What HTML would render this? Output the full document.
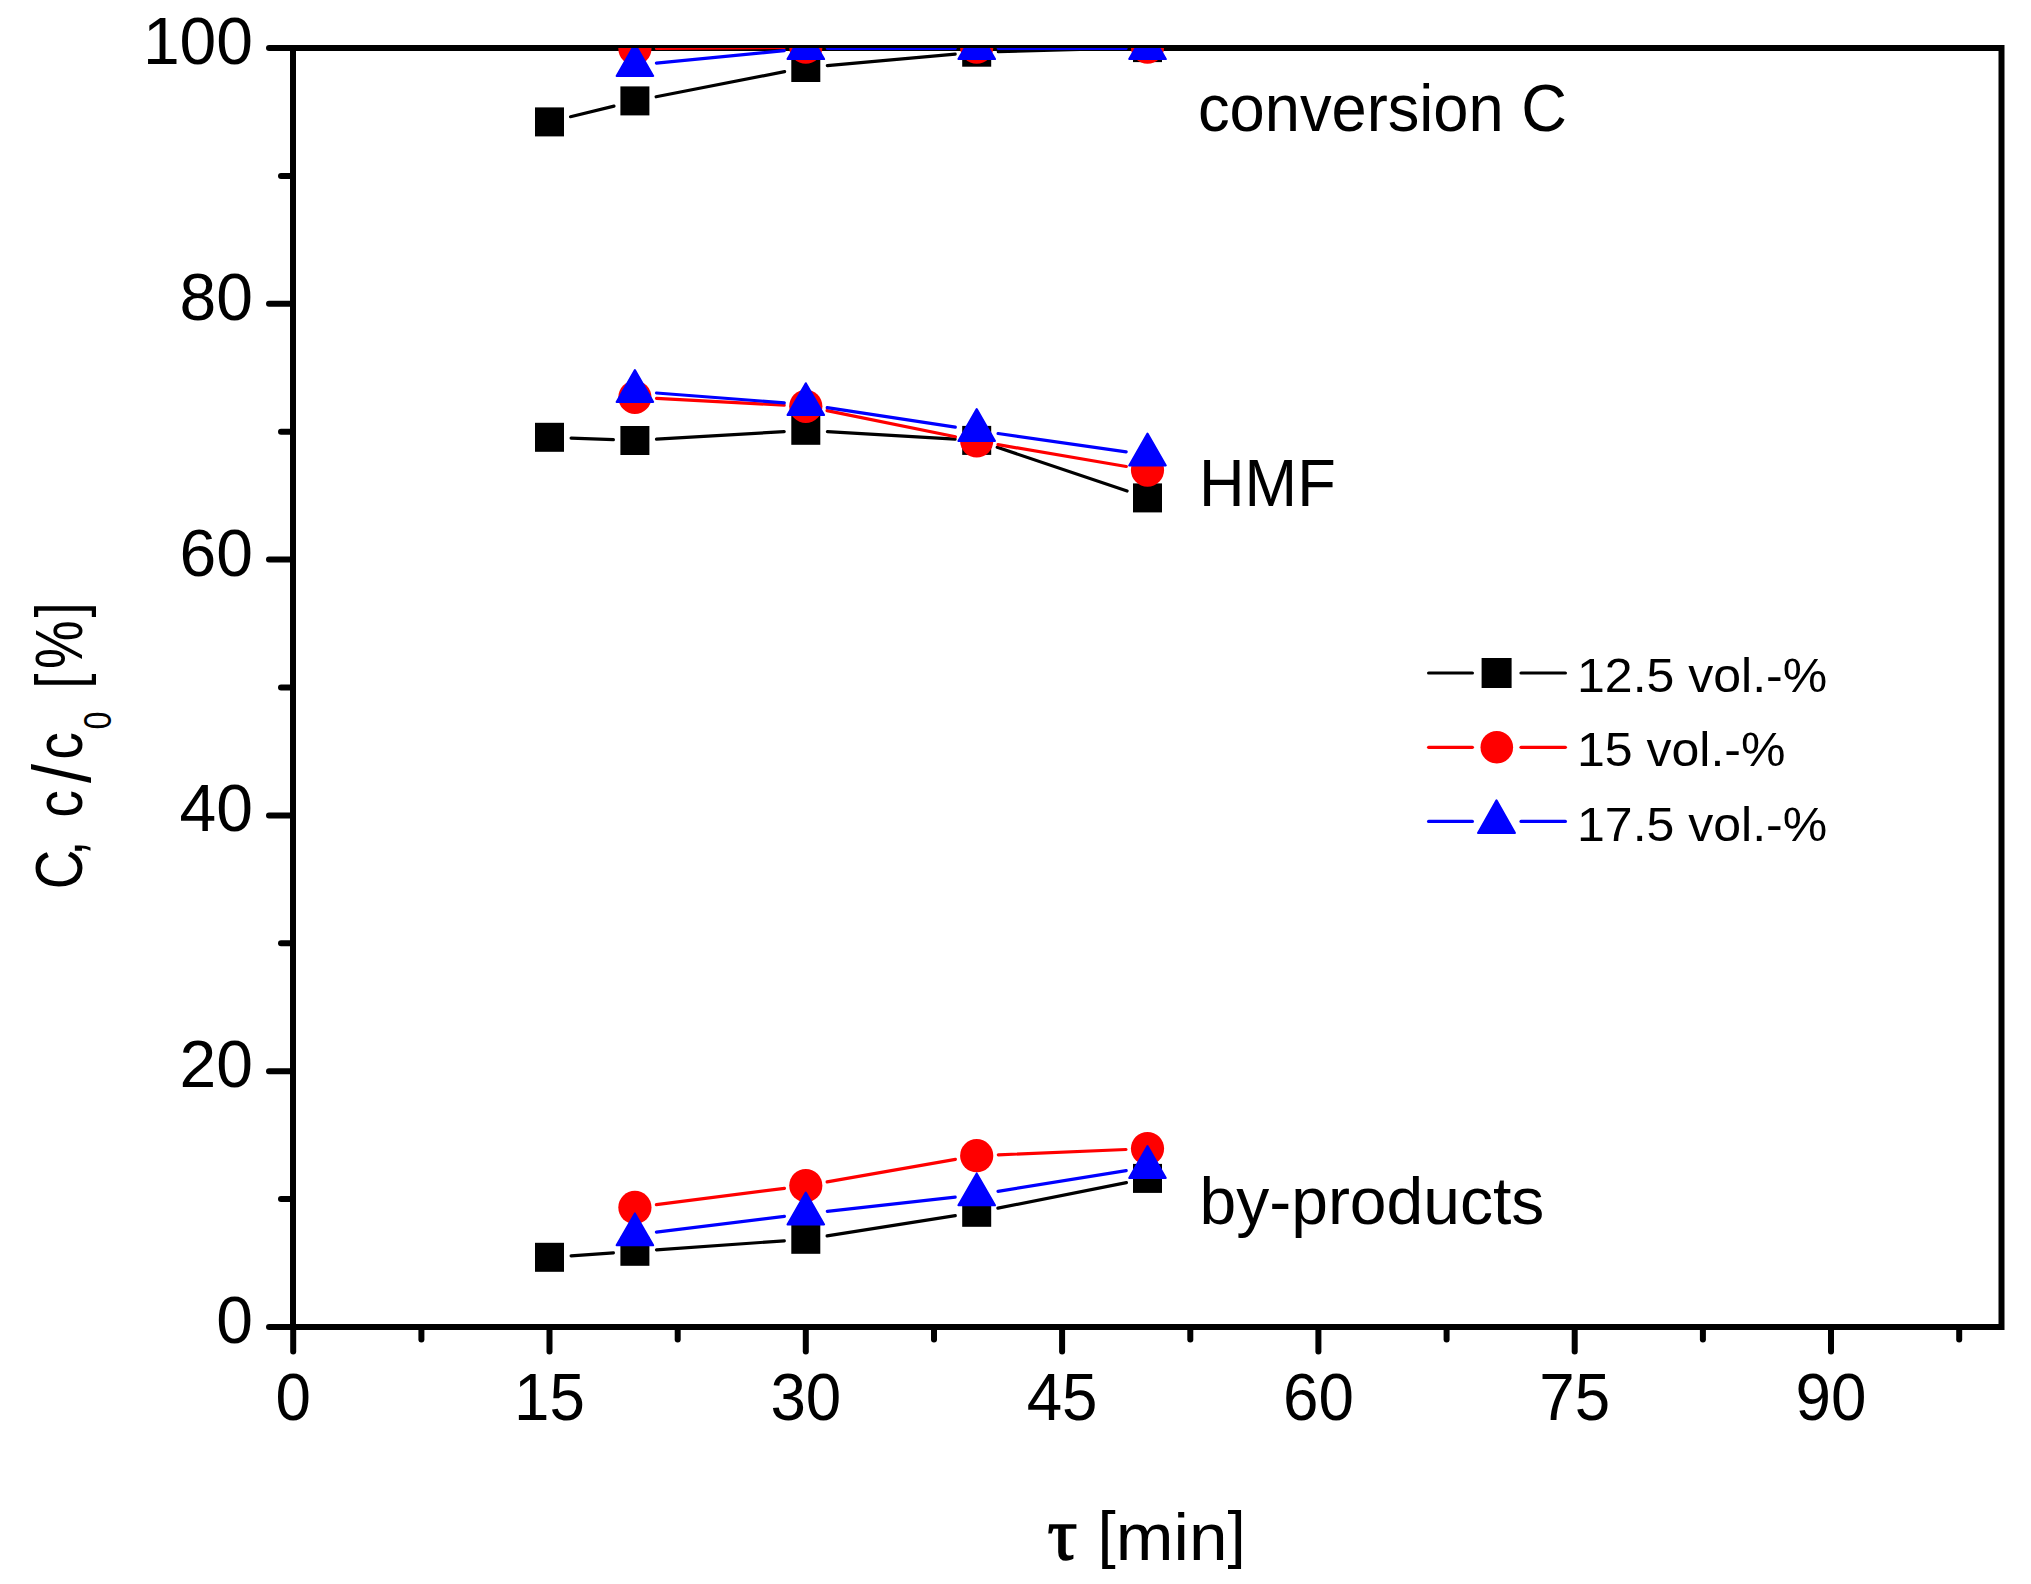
<!DOCTYPE html>
<html lang="en"><head><meta charset="utf-8"><title>Conversion, HMF and by-products vs residence time</title>
<style>html,body{margin:0;padding:0;background:#fff}body{width:2031px;height:1584px;overflow:hidden}svg{display:block}text{font-family:'Liberation Sans', sans-serif;fill:#000}text.sym{font-family:'Liberation Serif',serif}</style></head><body>
<svg width="2031" height="1584" viewBox="0 0 2031 1584">
<rect width="2031" height="1584" fill="#fff"/>
<defs><clipPath id="plot"><rect x="293.0" y="48.0" width="1708.5" height="1279.5"/></clipPath></defs>
<g stroke="#000" stroke-width="6" stroke-linecap="round" fill="none"><line x1="269" y1="48.0" x2="293.0" y2="48.0"/><line x1="281" y1="175.9" x2="293.0" y2="175.9"/><line x1="269" y1="303.8" x2="293.0" y2="303.8"/><line x1="281" y1="431.7" x2="293.0" y2="431.7"/><line x1="269" y1="559.6" x2="293.0" y2="559.6"/><line x1="281" y1="687.5" x2="293.0" y2="687.5"/><line x1="269" y1="815.4" x2="293.0" y2="815.4"/><line x1="281" y1="943.3" x2="293.0" y2="943.3"/><line x1="269" y1="1071.2" x2="293.0" y2="1071.2"/><line x1="281" y1="1199.1" x2="293.0" y2="1199.1"/><line x1="269" y1="1327.0" x2="293.0" y2="1327.0"/><line x1="293.2" y1="1327.0" x2="293.2" y2="1351.5"/><line x1="421.4" y1="1327.0" x2="421.4" y2="1339.5"/><line x1="549.5" y1="1327.0" x2="549.5" y2="1351.5"/><line x1="677.7" y1="1327.0" x2="677.7" y2="1339.5"/><line x1="805.8" y1="1327.0" x2="805.8" y2="1351.5"/><line x1="934.0" y1="1327.0" x2="934.0" y2="1339.5"/><line x1="1062.1" y1="1327.0" x2="1062.1" y2="1351.5"/><line x1="1190.3" y1="1327.0" x2="1190.3" y2="1339.5"/><line x1="1318.4" y1="1327.0" x2="1318.4" y2="1351.5"/><line x1="1446.6" y1="1327.0" x2="1446.6" y2="1339.5"/><line x1="1574.7" y1="1327.0" x2="1574.7" y2="1351.5"/><line x1="1702.9" y1="1327.0" x2="1702.9" y2="1339.5"/><line x1="1831.0" y1="1327.0" x2="1831.0" y2="1351.5"/><line x1="1959.2" y1="1327.0" x2="1959.2" y2="1339.5"/></g>
<rect x="293.0" y="48.0" width="1708.5" height="1279.0" fill="none" stroke="#000" stroke-width="6"/>
<g font-size="66" text-anchor="end">
<text x="253" y="64.0">100</text>
<text x="253" y="319.8">80</text>
<text x="253" y="575.6">60</text>
<text x="253" y="831.4">40</text>
<text x="253" y="1087.2">20</text>
<text x="253" y="1343.0">0</text>
</g>
<g font-size="66" text-anchor="middle">
<text transform="translate(293.2 1420) scale(0.965 1)">0</text>
<text transform="translate(549.5 1420) scale(0.965 1)">15</text>
<text transform="translate(805.8 1420) scale(0.965 1)">30</text>
<text transform="translate(1062.1 1420) scale(0.965 1)">45</text>
<text transform="translate(1318.4 1420) scale(0.965 1)">60</text>
<text transform="translate(1574.7 1420) scale(0.965 1)">75</text>
<text transform="translate(1831.0 1420) scale(0.965 1)">90</text>
</g>
<g clip-path="url(#plot)">
<g stroke="#000" stroke-width="3.2" stroke-linecap="round"><line x1="570.5" y1="116.7" x2="614.0" y2="106.1"/><line x1="656.1" y1="96.8" x2="784.6" y2="71.6"/><line x1="827.3" y1="65.6" x2="955.2" y2="54.1"/><line x1="998.3" y1="51.6" x2="1126.0" y2="48.2"/></g>
<g stroke="#000" stroke-width="3.2" stroke-linecap="round"><line x1="571.1" y1="438.1" x2="613.4" y2="439.7"/><line x1="656.5" y1="439.2" x2="784.2" y2="431.6"/><line x1="827.4" y1="431.6" x2="955.1" y2="439.1"/><line x1="997.2" y1="447.3" x2="1127.1" y2="491.0"/></g>
<g stroke="#000" stroke-width="3.2" stroke-linecap="round"><line x1="571.1" y1="1255.8" x2="613.4" y2="1252.8"/><line x1="656.5" y1="1249.8" x2="784.3" y2="1240.8"/><line x1="827.1" y1="1235.9" x2="955.3" y2="1215.7"/><line x1="997.9" y1="1208.1" x2="1126.4" y2="1182.6"/></g>
<g fill="#000"><rect x="535.0" y="107.4" width="29" height="29"/><rect x="620.4" y="86.4" width="29" height="29"/><rect x="791.3" y="53.0" width="29" height="29"/><rect x="962.2" y="37.7" width="29" height="29"/><rect x="1133.0" y="33.1" width="29" height="29"/><rect x="535.0" y="422.8" width="29" height="29"/><rect x="620.4" y="426.0" width="29" height="29"/><rect x="791.3" y="415.8" width="29" height="29"/><rect x="962.2" y="425.9" width="29" height="29"/><rect x="1133.0" y="483.4" width="29" height="29"/><rect x="535.0" y="1242.8" width="29" height="29"/><rect x="620.4" y="1236.8" width="29" height="29"/><rect x="791.3" y="1224.8" width="29" height="29"/><rect x="962.2" y="1197.8" width="29" height="29"/><rect x="1133.0" y="1163.9" width="29" height="29"/></g>
<g stroke="#f00" stroke-width="3.2" stroke-linecap="round"><line x1="656.5" y1="48.4" x2="784.2" y2="47.4"/><line x1="827.4" y1="47.2" x2="955.1" y2="47.2"/><line x1="998.3" y1="47.2" x2="1126.0" y2="47.2"/></g>
<g stroke="#f00" stroke-width="3.2" stroke-linecap="round"><line x1="656.5" y1="398.4" x2="784.2" y2="405.2"/><line x1="827.0" y1="410.6" x2="955.5" y2="436.7"/><line x1="998.0" y1="444.6" x2="1126.3" y2="466.5"/></g>
<g stroke="#f00" stroke-width="3.2" stroke-linecap="round"><line x1="656.4" y1="1204.7" x2="784.4" y2="1188.3"/><line x1="827.1" y1="1181.9" x2="955.4" y2="1159.4"/><line x1="998.3" y1="1154.8" x2="1126.0" y2="1149.5"/></g>
<g fill="#f00"><circle cx="634.9" cy="48.6" r="16.6"/><circle cx="805.8" cy="47.2" r="16.6"/><circle cx="976.7" cy="47.2" r="16.6"/><circle cx="1147.5" cy="47.2" r="16.6"/><circle cx="634.9" cy="397.3" r="16.6"/><circle cx="805.8" cy="406.3" r="16.6"/><circle cx="976.7" cy="441.0" r="16.6"/><circle cx="1147.5" cy="470.1" r="16.6"/><circle cx="634.9" cy="1207.4" r="16.6"/><circle cx="805.8" cy="1185.6" r="16.6"/><circle cx="976.7" cy="1155.7" r="16.6"/><circle cx="1147.5" cy="1148.6" r="16.6"/></g>
<g stroke="#00f" stroke-width="3.2" stroke-linecap="round"><line x1="656.4" y1="63.2" x2="784.3" y2="50.6"/><line x1="827.4" y1="48.5" x2="955.1" y2="48.5"/><line x1="998.3" y1="48.5" x2="1126.0" y2="48.5"/></g>
<g stroke="#00f" stroke-width="3.2" stroke-linecap="round"><line x1="656.5" y1="393.0" x2="784.3" y2="402.8"/><line x1="827.2" y1="407.7" x2="955.3" y2="427.2"/><line x1="998.1" y1="433.5" x2="1126.2" y2="451.8"/></g>
<g stroke="#00f" stroke-width="3.2" stroke-linecap="round"><line x1="656.4" y1="1232.1" x2="784.4" y2="1216.4"/><line x1="827.3" y1="1211.4" x2="955.2" y2="1197.1"/><line x1="998.0" y1="1191.3" x2="1126.2" y2="1170.7"/></g>
<g fill="#00f" stroke="#00f" stroke-width="2" stroke-linejoin="round"><path d="M634.9 44.0L653.2 75.9L616.6 75.9Z"/><path d="M805.8 27.2L824.1 59.1L787.5 59.1Z"/><path d="M976.7 27.2L995.0 59.1L958.4 59.1Z"/><path d="M1147.5 27.2L1165.8 59.1L1129.2 59.1Z"/><path d="M634.9 370.0L653.2 401.9L616.6 401.9Z"/><path d="M805.8 383.2L824.1 415.1L787.5 415.1Z"/><path d="M976.7 409.1L995.0 441.0L958.4 441.0Z"/><path d="M1147.5 433.6L1165.8 465.5L1129.2 465.5Z"/><path d="M634.9 1213.4L653.2 1245.3L616.6 1245.3Z"/><path d="M805.8 1192.5L824.1 1224.4L787.5 1224.4Z"/><path d="M976.7 1173.4L995.0 1205.3L958.4 1205.3Z"/><path d="M1147.5 1146.0L1165.8 1177.9L1129.2 1177.9Z"/></g>
</g>
<g font-size="66">
<text transform="translate(1198 131) scale(0.958 1)">conversion C</text>
<text transform="translate(1199 506.3) scale(0.957 1)">HMF</text>
<text transform="translate(1199.5 1224)">by-products</text>
</g>
<g stroke-width="3.2" stroke-linecap="round">
<line x1="1428.6" y1="673" x2="1472.4" y2="673" stroke="#000"/><line x1="1521" y1="673" x2="1565.4" y2="673" stroke="#000"/>
<line x1="1428.6" y1="747.3" x2="1472.4" y2="747.3" stroke="#f00"/><line x1="1521" y1="747.3" x2="1565.4" y2="747.3" stroke="#f00"/>
<line x1="1428.6" y1="821.4" x2="1472.4" y2="821.4" stroke="#00f"/><line x1="1521" y1="821.4" x2="1565.4" y2="821.4" stroke="#00f"/>
</g>
<g fill="#000"><rect x="1481.6" y="658.0" width="30" height="30"/></g>
<g fill="#f00"><circle cx="1496.8" cy="747.2" r="16.3"/></g>
<g fill="#00f" stroke="#00f" stroke-width="2" stroke-linejoin="round"><path d="M1496.5 800.3L1515.0 832.9L1478.0 832.9Z"/></g>
<g font-size="49">
<text transform="translate(1577 692) scale(1.021 1)">12.5 vol.-%</text>
<text transform="translate(1577 766) scale(1.021 1)">15 vol.-%</text>
<text transform="translate(1577 840.5) scale(1.021 1)">17.5 vol.-%</text>
</g>
<text class="sym" font-size="74" x="1047.5" y="1558.5" stroke="#000" stroke-width="1.6">τ</text>
<text font-size="66" transform="translate(1097.6 1559.5) scale(1.05 1)"><tspan font-size="62.5" dy="-3.75">[</tspan><tspan dy="3.75">min</tspan><tspan font-size="62.5" dy="-3.75">]</tspan></text>
<text font-size="66" transform="translate(82 886) rotate(-90) scale(0.83 1)" x="-3.9 36.5 56.5 82.5 124.1 152.3 188.6 208.6 237.8 261.4 323.5" y="0">C, c<tspan font-size="82" dy="8">/</tspan><tspan dy="-8">c</tspan><tspan font-size="39" dy="29">0</tspan><tspan dy="-29"> [%]</tspan></text>
</svg></body></html>
